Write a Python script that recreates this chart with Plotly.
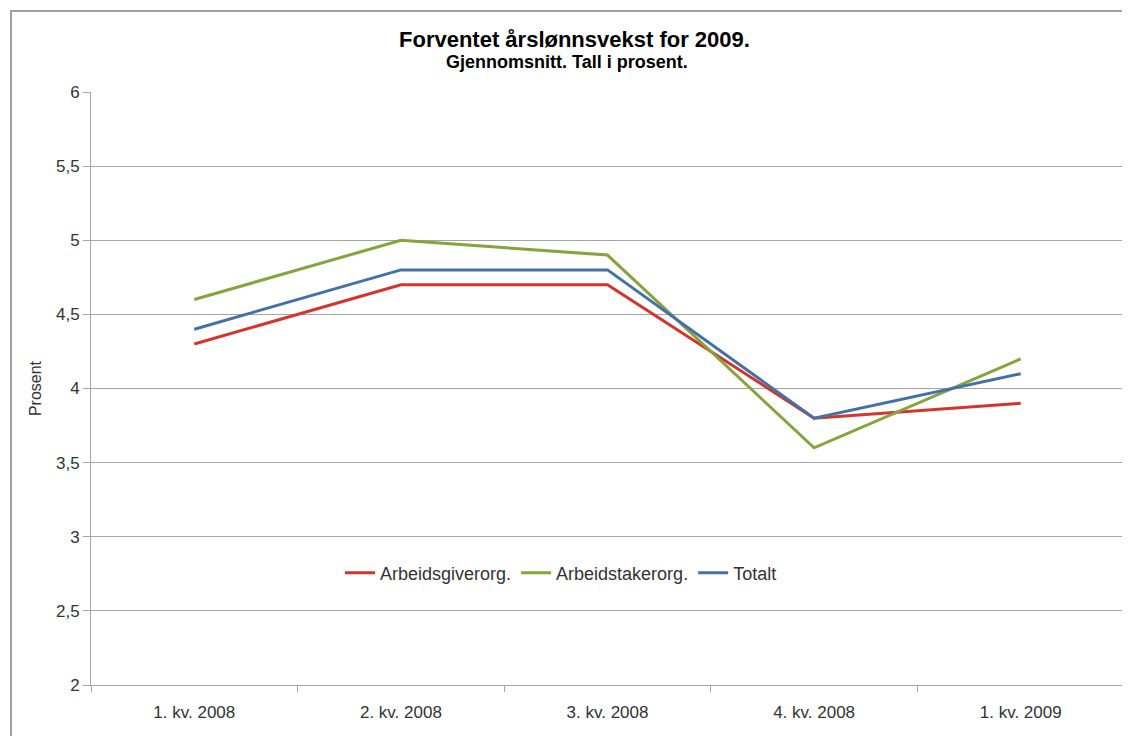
import plotly.graph_objects as go

categories = ["1. kv. 2008", "2. kv. 2008", "3. kv. 2008", "4. kv. 2008", "1. kv. 2009"]
arbeidsgiver = [4.3, 4.7, 4.7, 3.8, 3.9]
arbeidstaker = [4.6, 5.0, 4.9, 3.6, 4.2]
totalt = [4.4, 4.8, 4.8, 3.8, 4.1]

series = [
    ("Arbeidsgiverorg.", arbeidsgiver, "#D4342C"),
    ("Arbeidstakerorg.", arbeidstaker, "#86A33C"),
    ("Totalt", totalt, "#4470A8"),
]

# page has an 8px body margin; work in figure coordinates (screen - 8)
OFF = 8
W, H = 1130 - OFF, 736 - OFF
L, R, T, B = 91 - OFF, 6, 92 - OFF, 51
pw, ph = W - L - R, H - T - B

def px(x):
    return (x - OFF - L) / pw

def py(y):
    return (H - B - (y - OFF)) / ph

fig = go.Figure()
for name, vals, col in series:
    fig.add_trace(go.Scatter(x=categories, y=vals, name=name, mode="lines",
                             line=dict(color=col, width=3)))

font = "Liberation Sans, Arial, sans-serif"
grid = "#A6A6A6"
txt = "#333333"

fig.update_layout(
    width=W, height=H,
    margin=dict(l=L, r=R, t=T, b=B),
    paper_bgcolor="white", plot_bgcolor="white",
    separators=", ",
    font=dict(family=font, size=17, color=txt),
    showlegend=True,
    legend=dict(orientation="h", x=px(561), xanchor="center", y=py(573), yanchor="middle",
                bgcolor="rgba(0,0,0,0)", font=dict(size=18, color=txt),
                itemwidth=30, tracegroupgap=0),
    xaxis=dict(type="category", range=[-0.5, 4.5], showgrid=False,
               showline=True, linecolor=grid, linewidth=1,
               ticks="outside", tickson="boundaries", ticklen=6, tickcolor=grid,
               ticklabelstandoff=12,
               tickfont=dict(size=17, color=txt), fixedrange=True),
    yaxis=dict(range=[2, 6], dtick=0.5, showgrid=True, gridcolor=grid, gridwidth=1,
               showline=True, linecolor=grid, linewidth=1,
               ticks="outside", ticklen=7, tickcolor=grid,
               tickfont=dict(size=17, color=txt),
               title=dict(text="Prosent", font=dict(size=16, color=txt), standoff=10),
               zeroline=False, fixedrange=True),
    annotations=[
        dict(text="<b>Forventet årslønnsvekst for 2009.</b>", xref="paper", yref="paper",
             x=px(574), y=py(40), xanchor="center", yanchor="middle", showarrow=False,
             font=dict(size=22, color="black", family=font)),
        dict(text="<b>Gjennomsnitt. Tall i prosent.</b>", xref="paper", yref="paper",
             x=px(567), y=py(62), xanchor="center", yanchor="middle", showarrow=False,
             font=dict(size=18, color="black", family=font)),
    ],
    shapes=[
        dict(type="path", xref="paper", yref="paper",
             path=f"M {px(11)},{py(745)} L {px(11)},{py(11)} L {px(1140)},{py(11)}",
             line=dict(color="#A0A0A0", width=2)),
    ],
)

fig.write_html("out.html")
